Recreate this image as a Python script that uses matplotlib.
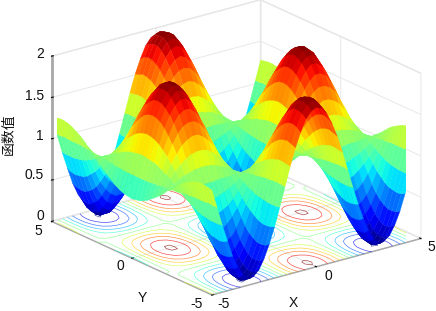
import numpy as np
import matplotlib
matplotlib.use("Agg")
import matplotlib.pyplot as plt

plt.rcParams['font.family'] = ['Liberation Sans', 'Noto Sans CJK SC', 'DejaVu Sans']

# Estimated surface heights on a 0.25 lattice (typed table, one symmetric quadrant).
# Rows: |y| = 0 ... 5, columns: |x| = 0 ... 5. The surface is mirror symmetric in x and y.
half_axis = [0, .25, .5, .75, 1, 1.25, 1.5, 1.75, 2, 2.25, 2.5, 2.75, 3, 3.25, 3.5, 3.75, 4, 4.25, 4.5, 4.75, 5]
z_quadrant = [
    [.00, .03, .12, .27, .46, .69, .93, 1.18, 1.42, 1.63, 1.80, 1.93, 1.99, 2.00, 1.94, 1.82, 1.66, 1.45, 1.22, .97, .72],
    [.02, .05, .14, .28, .47, .69, .93, 1.18, 1.41, 1.62, 1.79, 1.91, 1.98, 1.98, 1.93, 1.81, 1.65, 1.44, 1.21, .97, .73],
    [.06, .09, .18, .31, .49, .70, .93, 1.17, 1.39, 1.59, 1.75, 1.87, 1.93, 1.94, 1.88, 1.77, 1.62, 1.42, 1.20, .97, .74],
    [.14, .16, .24, .37, .53, .73, .94, 1.15, 1.36, 1.54, 1.69, 1.80, 1.86, 1.86, 1.81, 1.71, 1.57, 1.39, 1.19, .97, .76],
    [.24, .26, .33, .44, .59, .76, .95, 1.14, 1.32, 1.48, 1.61, 1.70, 1.76, 1.76, 1.72, 1.63, 1.50, 1.34, 1.17, .98, .79],
    [.37, .39, .44, .54, .66, .80, .96, 1.11, 1.27, 1.40, 1.51, 1.59, 1.63, 1.63, 1.60, 1.53, 1.42, 1.29, 1.14, .98, .83],
    [.51, .53, .57, .64, .74, .85, .97, 1.09, 1.20, 1.31, 1.39, 1.45, 1.49, 1.49, 1.46, 1.41, 1.32, 1.22, 1.11, .99, .87],
    [.67, .68, .71, .76, .82, .90, .98, 1.06, 1.14, 1.21, 1.27, 1.31, 1.33, 1.33, 1.31, 1.27, 1.22, 1.15, 1.08, .99, .91],
    [.85, .85, .86, .89, .92, .95, .99, 1.03, 1.07, 1.10, 1.13, 1.15, 1.16, 1.16, 1.15, 1.13, 1.11, 1.08, 1.04, 1.00, .96],
    [1.02, 1.02, 1.02, 1.02, 1.01, 1.01, 1.00, 1.00, .99, .99, .99, .98, .98, .98, .99, .99, .99, 1.00, 1.01, 1.01, 1.02],
    [1.20, 1.19, 1.17, 1.15, 1.11, 1.06, 1.02, .97, .92, .88, .85, .82, .81, .81, .82, .85, .88, .92, .97, 1.01, 1.06],
    [1.37, 1.36, 1.32, 1.27, 1.20, 1.12, 1.03, .94, .85, .77, .71, .67, .64, .64, .66, .71, .77, .84, .93, 1.02, 1.11],
    [1.53, 1.51, 1.46, 1.39, 1.29, 1.17, 1.04, .91, .79, .68, .59, .52, .49, .49, .52, .58, .67, .78, .90, 1.03, 1.16],
    [1.67, 1.65, 1.59, 1.49, 1.36, 1.21, 1.05, .89, .73, .59, .47, .39, .35, .35, .39, .46, .57, .71, .87, 1.03, 1.20],
    [1.79, 1.76, 1.69, 1.58, 1.43, 1.25, 1.06, .86, .68, .51, .37, .28, .23, .23, .27, .36, .49, .66, .84, 1.04, 1.23],
    [1.89, 1.86, 1.78, 1.65, 1.48, 1.28, 1.07, .85, .64, .45, .30, .19, .13, .13, .18, .28, .43, .61, .82, 1.04, 1.26],
    [1.96, 1.93, 1.84, 1.70, 1.52, 1.30, 1.07, .84, .61, .41, .24, .13, .06, .06, .11, .23, .39, .58, .81, 1.04, 1.28],
    [1.99, 1.97, 1.88, 1.73, 1.54, 1.32, 1.08, .83, .59, .38, .21, .09, .03, .02, .08, .19, .36, .57, .80, 1.04, 1.29],
    [2.00, 1.97, 1.88, 1.74, 1.55, 1.32, 1.08, .83, .59, .38, .21, .08, .02, .01, .07, .19, .36, .56, .80, 1.05, 1.29],
    [1.98, 1.95, 1.86, 1.72, 1.53, 1.31, 1.08, .83, .60, .39, .22, .10, .04, .04, .09, .21, .37, .57, .80, 1.04, 1.28],
    [1.93, 1.90, 1.82, 1.68, 1.51, 1.30, 1.07, .84, .62, .43, .27, .15, .09, .09, .14, .25, .40, .60, .81, 1.04, 1.27],
]
x_ticks = [-5, 0, 5]
y_ticks = [-5, 0, 5]
z_ticks = [0, .5, 1, 1.5, 2]
contour_levels = [.02, .2, .4, .6, .8, 1.0, 1.2, 1.4, 1.6, 1.8, 1.98]

half = np.array(half_axis)
axis_vals = np.concatenate([-half[:0:-1], half])
q = np.array(z_quadrant)
q = np.hstack([q[:, :0:-1], q])
Z = np.vstack([q[:0:-1], q])
X, Y = np.meshgrid(axis_vals, axis_vals)

W, H = 436, 311
fig = plt.figure(figsize=(W / 100, H / 100), dpi=100)
ax = fig.add_axes([-0.029, -0.049, 1.12, 1.12], projection='3d', computed_zorder=False)
ax.set_proj_type('ortho')
ax.view_init(elev=20.6, azim=-127.5)
ax.set_box_aspect((10, 10, 6.7), zoom=1.149)
ax.set_xlim(-5, 5, view_margin=0)
ax.set_ylim(-5, 5, view_margin=0)
ax.set_zlim(0, 2, view_margin=0)

ax.contour(X, Y, Z, levels=contour_levels, zdir='z', offset=0, cmap='jet', vmin=0, vmax=2,
           linewidths=0.5, alpha=0.7, zorder=1)
surf = ax.plot_surface(X, Y, Z, cmap='jet', vmin=0, vmax=2, rstride=1, cstride=1,
                       linewidth=0.25, antialiased=True, shade=False, zorder=2)
surf.set_edgecolor('face')

for a in (ax.xaxis, ax.yaxis, ax.zaxis):
    a.set_pane_color((1, 1, 1, 1))
    a.pane.set_edgecolor('#e4e4e4')
    a.line.set_color('#a8a8a8')
    a.line.set_linewidth(1.0)
    a._axinfo['grid'].update(color='#e8e8e8', linewidth=0.7)
    a._axinfo['tick'].update(inward_factor=0.0, outward_factor=0.1)
    a._axinfo['tick']['color'] = '#888888'

ax.zaxis.set_ticks_position('upper')
ax.set_xticks(x_ticks, [''] * len(x_ticks))
ax.set_yticks(y_ticks, [''] * len(y_ticks))
ax.set_zticks(z_ticks, [''] * len(z_ticks))
ax.zaxis.line.set_linewidth(2.0)


def label(px, py, text, **kw):
    kw.setdefault('ha', 'center')
    kw.setdefault('va', 'center')
    kw.setdefault('fontsize', 10)
    fig.text(px / W, 1 - py / H, text, color='#111111', **kw)


label(38, 231, '5')
label(120, 266, '0')
label(197, 304, '-5')
label(224, 304, '-5')
label(328, 276, '0')
label(431, 247, '5')
for py, t in [(54, '2'), (96, '1.5'), (136, '1'), (175, '0.5'), (216, '0')]:
    label(44, py, t, ha='right')
label(293, 303, 'X')
label(142, 298, 'Y')
label(9, 134, '函数值', rotation=90, fontsize=10)

fig.savefig('out.png', dpi=100)
